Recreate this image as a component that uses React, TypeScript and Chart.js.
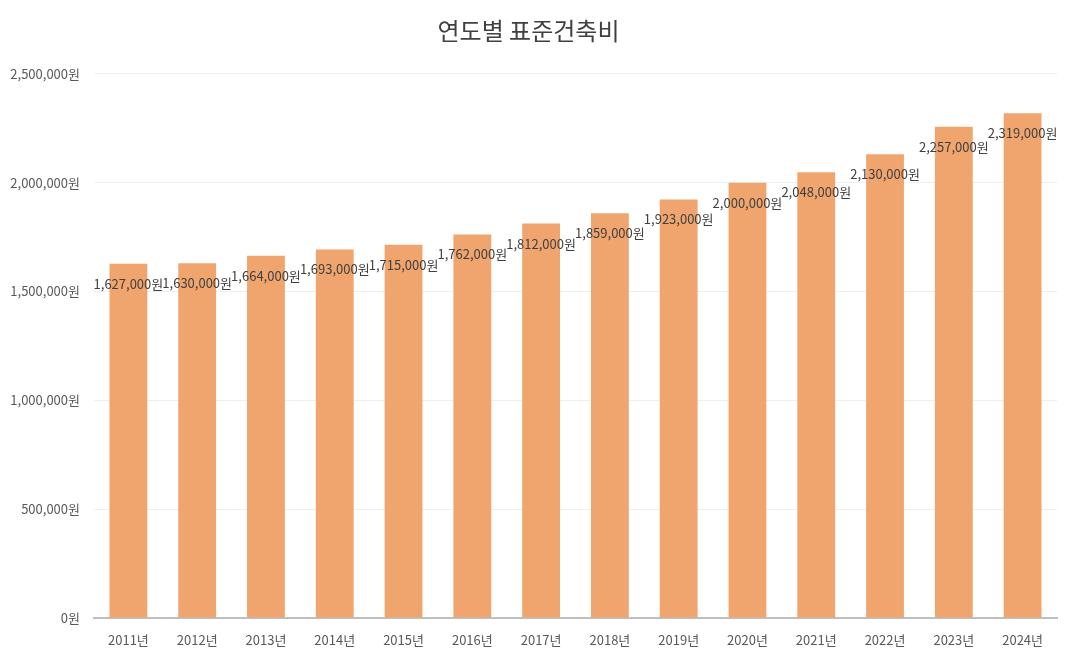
import React, { useEffect, useRef } from "react";
import { Chart, registerables } from "chart.js";

Chart.register(...registerables);

const categories = ["2011년", "2012년", "2013년", "2014년", "2015년", "2016년", "2017년", "2018년", "2019년", "2020년", "2021년", "2022년", "2023년", "2024년"];
const costs = [1627000, 1630000, 1664000, 1693000, 1715000, 1762000, 1812000, 1859000, 1923000, 2000000, 2048000, 2130000, 2257000, 2319000];
const chartTitle = "연도별 표준건축비";

const FONT = "'Noto Sans CJK KR', 'Noto Sans', sans-serif";

const fmt = (v: number) => v.toLocaleString("en-US") + "원";

const labelPlugin = {
  id: "barLabels",
  afterDatasetsDraw(chart: any) {
    const ctx = chart.ctx;
    const meta = chart.getDatasetMeta(0);
    ctx.save();
    ctx.font = `13px ${FONT}`;
    ctx.fillStyle = "#404040";
    ctx.textAlign = "center";
    ctx.textBaseline = "middle";
    meta.data.forEach((bar: any, i: number) => {
      ctx.fillText(fmt(costs[i]), bar.x, bar.y + 20);
    });
    ctx.restore();
  },
};

export default function App() {
  const ref = useRef<HTMLCanvasElement>(null);
  useEffect(() => {
    const chart = new Chart(ref.current!, {
      type: "bar",
      data: {
        labels: categories,
        datasets: [
          {
            data: costs,
            backgroundColor: "rgb(241,165,110)",
            categoryPercentage: 1,
            barPercentage: 0.55,
          },
        ],
      },
      options: {
        animation: false,
        responsive: true,
        maintainAspectRatio: false,
        layout: { padding: { left: 0, right: 17, top: 0, bottom: 0 } },
        plugins: {
          legend: { display: false },
          tooltip: { enabled: false },
          title: {
            display: true,
            text: chartTitle,
            color: "#404040",
            font: { family: FONT, size: 24, weight: "normal" },
            padding: { top: 16, bottom: 29 },
          },
        },
        scales: {
          x: {
            grid: { display: false, drawTicks: false },
            border: { display: true, color: "#bfbfbf", width: 2 },
            ticks: { color: "#595959", font: { family: FONT, size: 13 }, padding: 14 },
            afterFit: (s: any) => { s.height = 40; },
          },
          y: {
            min: 0,
            max: 2500000,
            grid: { color: "#efefef", drawTicks: false },
            border: { display: false },
            ticks: {
              stepSize: 500000,
              color: "#595959",
              font: { family: FONT, size: 13 },
              padding: 14,
              callback: (v: any) => fmt(Number(v)),
            },
            afterFit: (s: any) => { s.width = 94; },
          },
        },
      },
      plugins: [labelPlugin],
    });
    return () => chart.destroy();
  }, []);
  return (
    <div style={{ position: "absolute", left: 0, top: 0, width: 1074, height: 658, background: "#fff" }}>
      <canvas ref={ref} />
    </div>
  );
}
